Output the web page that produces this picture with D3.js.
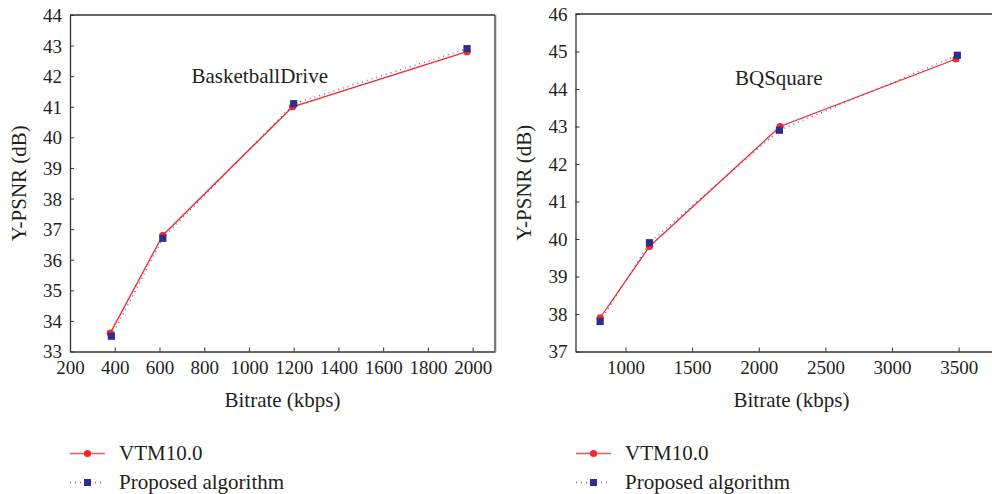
<!DOCTYPE html>
<html><head><meta charset="utf-8">
<script src="https://cdn.jsdelivr.net/npm/d3@7"></script>
<style>body{margin:0;background:#fff}svg{display:block}text{font-family:"Liberation Serif","DejaVu Serif",serif;fill:#231f20}</style>
</head><body><svg id="c" width="992" height="494"></svg>
<script>
// Data
const seriesNames = ["VTM10.0", "Proposed algorithm"];
const leftTitle = "BasketballDrive";
const leftVTM = [[380, 33.6], [615, 36.8], [1195, 41.0], [1975, 42.8]];
const leftProp = [[385, 33.5], [615, 36.7], [1200, 41.1], [1975, 42.9]];
const leftXTicks = [200, 400, 600, 800, 1000, 1200, 1400, 1600, 1800, 2000];
const leftYTicks = [33, 34, 35, 36, 37, 38, 39, 40, 41, 42, 43, 44];
const rightTitle = "BQSquare";
const rightVTM = [[810, 37.9], [1180, 39.8], [2160, 43.0], [3480, 44.8]];
const rightProp = [[810, 37.8], [1180, 39.9], [2155, 42.9], [3490, 44.9]];
const rightXTicks = [1000, 1500, 2000, 2500, 3000, 3500];
const rightYTicks = [37, 38, 39, 40, 41, 42, 43, 44, 45, 46];

const svg = d3.select("#c");
const RED = "#ee2a2f", BLUE = "#2e2e8f";
const TICKFS = "19px", LABFS = "21px";

function panel(o) {
  const g = svg.append("g");
  const x = d3.scaleLinear().domain(o.xd).range([o.l, o.r]);
  const y = d3.scaleLinear().domain(o.yd).range([o.b, o.t]);
  g.append("line").attr("x1", o.l).attr("x2", o.frameR).attr("y1", o.t).attr("y2", o.t).attr("stroke", "#333").attr("stroke-width", 1.3);
  if (o.boxRight) g.append("line").attr("x1", o.r).attr("x2", o.r).attr("y1", o.t).attr("y2", o.b).attr("stroke", "#333").attr("stroke-width", 1.3);
  const xa = g.append("g").attr("transform", `translate(0,${o.b})`)
    .call(d3.axisBottom(x).tickValues(o.xt).tickSizeInner(-4).tickSizeOuter(0).tickPadding(10).tickFormat(d3.format("d")));
  const ya = g.append("g").attr("transform", `translate(${o.l},0)`)
    .call(d3.axisLeft(y).tickValues(o.yt).tickSizeInner(-4).tickSizeOuter(0).tickPadding(8).tickFormat(d3.format("d")));
  [xa, ya].forEach(a => {
    a.select(".domain").attr("stroke", "#333").attr("stroke-width", 1.3);
    a.selectAll(".tick line").attr("stroke", "#333").attr("stroke-width", 1);
    a.selectAll("text").style("font-size", TICKFS).attr("fill", "#231f20");
  });
  xa.selectAll("text").attr("dy", "0.66em");
  ya.selectAll("text").attr("dy", "0.34em");
  g.append("text").attr("x", o.xlabX).attr("y", 407).attr("text-anchor", "middle").style("font-size", LABFS).text("Bitrate (kbps)");
  g.append("text").attr("transform", `translate(${o.ylabX},${(o.t + o.b) / 2}) rotate(-90)`).attr("text-anchor", "middle").style("font-size", LABFS).text("Y-PSNR (dB)");
  g.append("text").attr("x", o.titleX).attr("y", o.titleY).style("font-size", LABFS).text(o.title);
  const line = d3.line().x(d => x(d[0])).y(d => y(d[1]));
  g.append("path").datum(o.prop).attr("d", line).attr("fill", "none").attr("stroke", BLUE).attr("stroke-opacity", 0.75).attr("stroke-width", 1.3).attr("stroke-dasharray", "1,4");
  g.append("path").datum(o.vtm).attr("d", line).attr("fill", "none").attr("stroke", RED).attr("stroke-width", 1.3);
  g.selectAll("circle.v").data(o.vtm).enter().append("circle").attr("cx", d => x(d[0])).attr("cy", d => y(d[1])).attr("r", 3.6).attr("fill", RED);
  g.selectAll("rect.p").data(o.prop).enter().append("rect").attr("x", d => x(d[0]) - 3.6).attr("y", d => y(d[1]) - 3.6).attr("width", 7.2).attr("height", 7.2).attr("fill", BLUE);
  const lx = o.legX;
  g.append("line").attr("x1", lx).attr("x2", lx + 35).attr("y1", 453.5).attr("y2", 453.5).attr("stroke", RED).attr("stroke-opacity", 0.8).attr("stroke-width", 1.5);
  g.append("circle").attr("cx", lx + 17.5).attr("cy", 453.5).attr("r", 3.6).attr("fill", RED);
  g.append("text").attr("x", lx + 49).attr("y", 459.5).style("font-size", LABFS).text(seriesNames[0]);
  g.append("line").attr("x1", lx).attr("x2", lx + 35).attr("y1", 482.5).attr("y2", 482.5).attr("stroke", BLUE).attr("stroke-opacity", 0.7).attr("stroke-width", 1.3).attr("stroke-dasharray", "1,4");
  g.append("rect").attr("x", lx + 14).attr("y", 479).attr("width", 7).attr("height", 7).attr("fill", BLUE);
  g.append("text").attr("x", lx + 49).attr("y", 488.5).style("font-size", LABFS).text(seriesNames[1]);
}

panel({xd: [200, 2100], yd: [33, 44], l: 70, r: 495, t: 15, b: 351.5, frameR: 495, boxRight: true,
  xt: leftXTicks, yt: leftYTicks, xlabX: 282.5, ylabX: 26, title: leftTitle, titleX: 191.5, titleY: 83,
  vtm: leftVTM, prop: leftProp, legX: 70});
svg.append("line").attr("x1", 496.5).attr("x2", 496.5).attr("y1", 14).attr("y2", 352).attr("stroke", "#ddd").attr("stroke-width", 1);
panel({xd: [625, 3750], yd: [37, 46], l: 575.5, r: 992, t: 14, b: 351.5, frameR: 992, boxRight: false,
  xt: rightXTicks, yt: rightYTicks, xlabX: 791.5, ylabX: 531, title: rightTitle, titleX: 735, titleY: 85,
  vtm: rightVTM, prop: rightProp, legX: 576});
</script></body></html>
